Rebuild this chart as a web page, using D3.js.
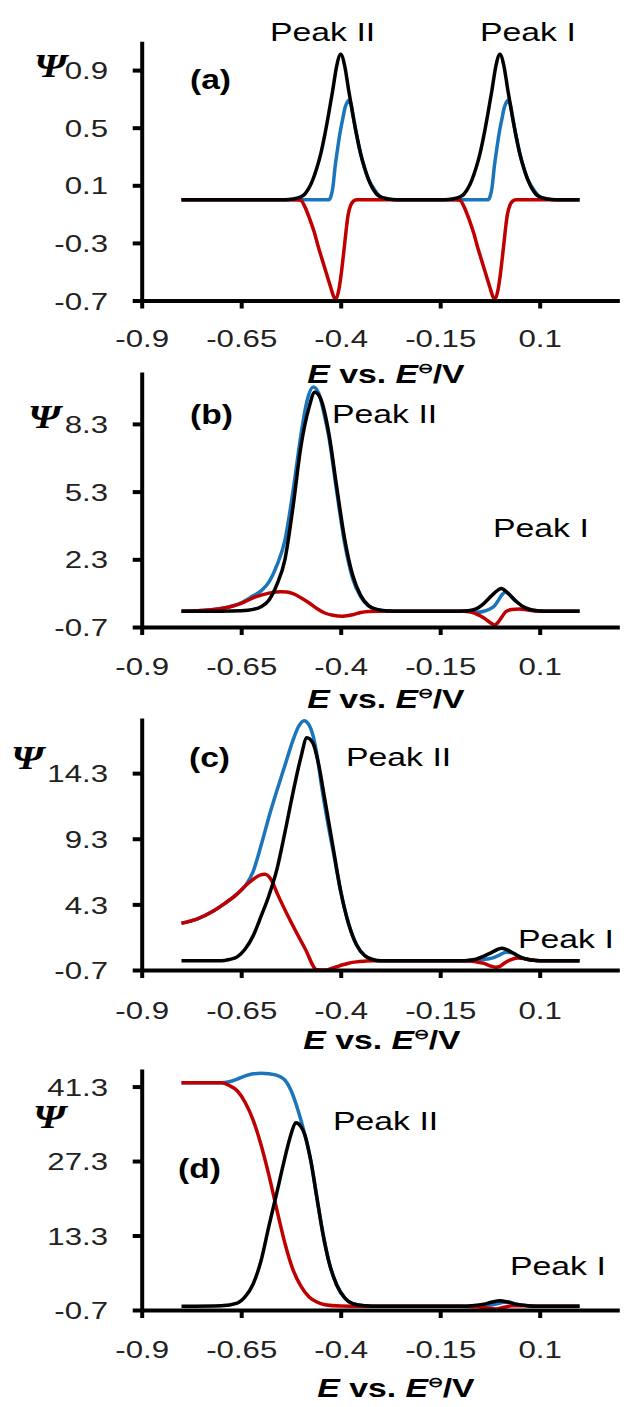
<!DOCTYPE html>
<html>
<head>
<meta charset="utf-8">
<script src="https://cdn.jsdelivr.net/npm/d3@7"></script>
<style>
  body { margin: 0; background: #fff; }
  svg text { font-family: "Liberation Sans", Arial, sans-serif; }
</style>
</head>
<body>
<div id="chart"></div>
<script>
// tick values
const xTicks = [-0.9, -0.65, -0.4, -0.15, 0.1];
const yTicksA = [-0.7, -0.3, 0.1, 0.5, 0.9];
const yTicksB = [-0.7, 2.3, 5.3, 8.3];
const yTicksC = [-0.7, 4.3, 9.3, 14.3];
const yTicksD = [-0.7, 13.3, 27.3, 41.3];
const panelNames = ["(a)", "(b)", "(c)", "(d)"];
const peakNames = ["Peak II", "Peak I"];

// curves, [E, Psi]
const blueA = [[-0.8,0],[-0.43,0],[-0.425,0.02],[-0.42,0.08],[-0.414,0.23],[-0.408,0.35],[-0.402,0.46],[-0.395,0.56],[-0.389,0.64],[-0.383,0.68],[-0.379,0.69],[-0.373,0.65],[-0.37,0.6],[-0.36,0.45],[-0.35,0.32],[-0.34,0.22],[-0.33,0.14],[-0.32,0.09],[-0.31,0.05],[-0.30,0.02],[-0.29,0.01],[-0.28,0.004],[-0.26,0],
  [-0.03,0],[-0.025,0.02],[-0.02,0.08],[-0.014,0.23],[-0.008,0.35],[-0.002,0.46],[0.005,0.56],[0.011,0.64],[0.017,0.68],[0.021,0.69],[0.027,0.65],[0.03,0.6],[0.04,0.45],[0.05,0.32],[0.06,0.22],[0.07,0.14],[0.08,0.09],[0.09,0.05],[0.10,0.02],[0.11,0.01],[0.12,0.004],[0.14,0],[0.2,0]];
const redA = [[-0.8,0],[-0.51,0],[-0.50,-0.005],[-0.49,-0.05],[-0.477,-0.14],[-0.466,-0.23],[-0.456,-0.33],[-0.445,-0.43],[-0.435,-0.52],[-0.425,-0.61],[-0.418,-0.67],[-0.412,-0.69],[-0.405,-0.63],[-0.398,-0.5],[-0.393,-0.38],[-0.389,-0.28],[-0.385,-0.18],[-0.381,-0.1],[-0.375,-0.04],[-0.368,-0.01],[-0.36,0],
  [-0.11,0],[-0.10,-0.005],[-0.09,-0.05],[-0.077,-0.14],[-0.066,-0.23],[-0.056,-0.33],[-0.045,-0.43],[-0.035,-0.52],[-0.025,-0.61],[-0.018,-0.67],[-0.012,-0.69],[-0.005,-0.63],[0.002,-0.5],[0.007,-0.38],[0.011,-0.28],[0.015,-0.18],[0.019,-0.1],[0.025,-0.04],[0.032,-0.01],[0.04,0],[0.2,0]];
const blackA = [[-0.8,0],[-0.54,0],[-0.52,0.005],[-0.50,0.02],[-0.49,0.04],[-0.48,0.08],[-0.47,0.14],[-0.46,0.22],[-0.45,0.32],[-0.44,0.45],[-0.43,0.6],[-0.42,0.76],[-0.41,0.93],[-0.40,1.01],[-0.39,0.93],[-0.38,0.76],[-0.37,0.6],[-0.36,0.45],[-0.35,0.32],[-0.34,0.22],[-0.33,0.14],[-0.32,0.08],[-0.31,0.04],[-0.30,0.02],[-0.28,0.005],[-0.26,0],
  [-0.14,0],[-0.12,0.005],[-0.10,0.02],[-0.09,0.04],[-0.08,0.08],[-0.07,0.14],[-0.06,0.22],[-0.05,0.32],[-0.04,0.45],[-0.03,0.6],[-0.02,0.76],[-0.01,0.93],[0,1.01],[0.01,0.93],[0.02,0.76],[0.03,0.6],[0.04,0.45],[0.05,0.32],[0.06,0.22],[0.07,0.14],[0.08,0.08],[0.09,0.04],[0.10,0.02],[0.12,0.005],[0.14,0],[0.2,0]];

const blueB = [[-0.8,0],[-0.75,0.03],[-0.70,0.12],[-0.65,0.37],[-0.62,0.68],[-0.60,0.9],[-0.58,1.3],[-0.56,2.05],[-0.54,3.15],[-0.52,5.3],[-0.50,7.8],[-0.485,9.3],[-0.469,9.93],[-0.455,9.65],[-0.44,8.6],[-0.43,7.75],[-0.41,5.3],[-0.39,3.0],[-0.37,1.45],[-0.35,0.65],[-0.33,0.24],[-0.31,0.08],[-0.28,0.01],[-0.25,0],
  [-0.09,0],[-0.076,-0.01],[-0.06,-0.05],[-0.04,0.0],[-0.025,0.1],[-0.013,0.25],[-0.005,0.45],[0.005,0.72],[0.015,0.86],[0.02,0.8],[0.04,0.45],[0.06,0.18],[0.08,0.05],[0.10,0.01],[0.12,0],[0.2,0]];
const redB = [[-0.8,0],[-0.75,0.03],[-0.70,0.12],[-0.65,0.35],[-0.616,0.62],[-0.58,0.8],[-0.55,0.86],[-0.535,0.85],[-0.52,0.78],[-0.50,0.6],[-0.478,0.35],[-0.46,0.12],[-0.44,-0.08],[-0.42,-0.18],[-0.395,-0.22],[-0.37,-0.16],[-0.35,-0.06],[-0.33,-0.01],[-0.31,0],
  [-0.09,0],[-0.076,-0.02],[-0.06,-0.12],[-0.04,-0.3],[-0.025,-0.5],[-0.013,-0.61],[-0.005,-0.5],[0.005,-0.25],[0.015,-0.02],[0.03,0.08],[0.05,0.1],[0.07,0.05],[0.09,0.01],[0.11,0],[0.2,0]];
const blackB = [[-0.8,0],[-0.70,0],[-0.65,0.02],[-0.62,0.08],[-0.60,0.2],[-0.58,0.5],[-0.56,1.2],[-0.54,2.3],[-0.52,4.6],[-0.50,7.3],[-0.48,9.0],[-0.465,9.7],[-0.45,9.4],[-0.43,7.9],[-0.41,5.5],[-0.39,3.2],[-0.37,1.6],[-0.35,0.7],[-0.33,0.25],[-0.31,0.08],[-0.28,0.01],[-0.25,0],
  [-0.10,0],[-0.08,0.02],[-0.06,0.1],[-0.04,0.35],[-0.02,0.7],[0.004,1.01],[0.02,0.8],[0.04,0.45],[0.06,0.18],[0.08,0.05],[0.10,0.01],[0.12,0],[0.2,0]];

const blueC = [[-0.8,2.86],[-0.76,3.2],[-0.72,3.8],[-0.69,4.4],[-0.66,5.1],[-0.64,5.7],[-0.62,6.8],[-0.60,8.8],[-0.58,11.0],[-0.56,13.0],[-0.54,14.9],[-0.52,16.8],[-0.505,17.9],[-0.492,18.3],[-0.48,18.0],[-0.469,17.1],[-0.458,15.4],[-0.448,13.3],[-0.433,10.6],[-0.418,8.2],[-0.40,5.3],[-0.38,2.8],[-0.36,1.2],[-0.34,0.4],[-0.32,0.1],[-0.30,0],
  [-0.12,0],[-0.09,0.01],[-0.06,0.05],[-0.04,0.1],[-0.02,0.2],[0.0,0.45],[0.015,0.65],[0.03,0.62],[0.05,0.3],[0.07,0.1],[0.09,0.03],[0.11,0],[0.2,0]];
const redC = [[-0.8,2.86],[-0.76,3.2],[-0.72,3.8],[-0.69,4.4],[-0.66,5.1],[-0.64,5.7],[-0.62,6.2],[-0.605,6.5],[-0.59,6.6],[-0.575,6.2],[-0.559,5.1],[-0.529,3.2],[-0.489,0.9],[-0.46,-0.68],[-0.44,-0.7],[-0.425,-0.6],[-0.41,-0.45],[-0.395,-0.3],[-0.38,-0.18],[-0.36,-0.08],[-0.34,-0.03],[-0.32,0],
  [-0.10,0],[-0.08,-0.02],[-0.06,-0.08],[-0.04,-0.2],[-0.025,-0.38],[-0.011,-0.49],[0.0,-0.42],[0.01,-0.2],[0.025,0.05],[0.045,0.22],[0.065,0.15],[0.085,0.05],[0.11,0],[0.2,0]];
const blackC = [[-0.8,0],[-0.70,0],[-0.68,0.1],[-0.66,0.3],[-0.64,0.9],[-0.62,1.9],[-0.60,3.4],[-0.58,5.0],[-0.56,7.0],[-0.54,9.8],[-0.52,12.8],[-0.50,15.5],[-0.485,17.0],[-0.47,16.6],[-0.455,14.9],[-0.44,12.3],[-0.42,8.8],[-0.40,5.3],[-0.38,2.8],[-0.36,1.2],[-0.34,0.4],[-0.32,0.1],[-0.30,0],
  [-0.10,0],[-0.08,0.03],[-0.06,0.12],[-0.04,0.35],[-0.02,0.65],[0.005,0.95],[0.03,0.65],[0.05,0.3],[0.07,0.1],[0.09,0.03],[0.11,0],[0.2,0]];

const blueD = [[-0.8,42.0],[-0.70,42.0],[-0.68,42.2],[-0.66,42.7],[-0.64,43.3],[-0.62,43.7],[-0.60,43.8],[-0.58,43.7],[-0.56,43.4],[-0.54,42.5],[-0.525,40.6],[-0.51,37.5],[-0.50,35.0],[-0.49,32.2],[-0.475,27.3],[-0.46,20.5],[-0.445,13.8],[-0.43,8.5],[-0.41,4.0],[-0.39,1.6],[-0.37,0.5],[-0.34,0.1],[-0.30,0],
  [-0.10,0],[-0.06,0.05],[-0.03,0.15],[-0.01,0.4],[0.01,0.75],[0.02,0.8],[0.04,0.4],[0.07,0.1],[0.10,0],[0.2,0]];
const redD = [[-0.8,42.0],[-0.70,42.0],[-0.68,41.5],[-0.66,40.5],[-0.64,38.3],[-0.62,35.0],[-0.60,30.3],[-0.58,24.5],[-0.56,18.0],[-0.54,11.8],[-0.52,6.9],[-0.50,3.8],[-0.48,1.8],[-0.46,0.8],[-0.44,0.3],[-0.40,0.05],[-0.35,0],
  [-0.10,0],[-0.06,-0.1],[-0.03,-0.35],[-0.01,-0.5],[0.01,-0.2],[0.03,0.1],[0.06,0.1],[0.10,0],[0.2,0]];
const blackD = [[-0.8,0],[-0.70,0.1],[-0.66,0.6],[-0.64,1.8],[-0.62,4.2],[-0.60,8.6],[-0.58,15.2],[-0.56,21.5],[-0.54,28.0],[-0.525,32.3],[-0.513,34.5],[-0.50,33.8],[-0.49,32.2],[-0.475,27.3],[-0.46,20.5],[-0.445,13.8],[-0.43,8.5],[-0.41,4.0],[-0.39,1.6],[-0.37,0.5],[-0.34,0.1],[-0.30,0],
  [-0.10,0],[-0.07,0.1],[-0.04,0.4],[-0.02,0.8],[0.0,1.05],[0.02,0.8],[0.04,0.4],[0.07,0.1],[0.10,0],[0.2,0]];

const width = 632, height = 1407;
const sx = 1.3;   // the text in the picture is stretched sideways
const blue = "#1a75bc", red = "#c00000";

const svg = d3.select("#chart").append("svg")
    .attr("width", width)
    .attr("height", height);

const x = d3.scaleLinear().domain([-0.9, 0.3]).range([141.7, 619.3]);

// where each panel sits on the page
const panels = [
  { blue: blueA, red: redA, black: blackA, yTicks: yTicksA, yMax: 1.1, top: 41.3, bottom: 300.5,
    labY: 46.5, titleX: 386, titleY: 383, psi: [34, 77], letter: [190, 89], p2: [270, 41], p1: [480, 41] },
  { blue: blueB, red: redB, black: blackB, yTicks: yTicksB, yMax: 10.6, top: 372, bottom: 627,
    labY: 48, titleX: 386, titleY: 708, psi: [28, 428], letter: [190, 424], p2: [332, 423], p1: [493, 537] },
  { blue: blueC, red: redC, black: blackC, yTicks: yTicksC, yMax: 18.5, top: 718, bottom: 970,
    labY: 49, titleX: 382, titleY: 1049, psi: [11, 769], letter: [189, 767], p2: [346, 766], p1: [518, 948] },
  { blue: blueD, red: redD, black: blackD, yTicks: yTicksD, yMax: 44.6, top: 1069, bottom: 1310,
    labY: 48, titleX: 396, titleY: 1397, psi: [33, 1128], letter: [178, 1178], p2: [333, 1130], p1: [510, 1275] }
];

function stretched(g, px, py, txt, size, k) {
  return g.append("text")
    .attr("transform", `translate(${px},${py}) scale(${k || sx},1)`)
    .attr("font-size", size)
    .text(txt);
}

panels.forEach((p, i) => {
  const g = svg.append("g");
  const y = d3.scaleLinear().domain([-0.7, p.yMax]).range([p.bottom, p.top]);

  // curves first so the axes sit on top like in excel
  const line = d3.line()
    .x(d => x(d[0]))
    .y(d => y(d[1]))
    .curve(d3.curveMonotoneX);

  [[p.blue, blue], [p.red, red], [p.black, "#000"]].forEach(([data, col]) => {
    g.append("path")
      .datum(data)
      .attr("fill", "none")
      .attr("stroke", col)
      .attr("stroke-width", 3.5)
      .attr("stroke-linejoin", "round")
      .attr("d", line);
  });

  // x axis
  g.append("g")
    .attr("transform", `translate(0,${p.bottom})`)
    .attr("font-family", null)
    .call(d3.axisBottom(x).tickValues(xTicks).tickSize(8).tickSizeOuter(0).tickFormat(d => String(d)))
    .call(a => a.select(".domain").attr("stroke-width", 4))
    .call(a => a.selectAll(".tick line").attr("stroke-width", 4))
    .call(a => a.selectAll(".tick text")
      .attr("y", p.labY).attr("dy", null)
      .attr("transform", `scale(${sx},1)`)
      .attr("font-size", 24)
      .attr("fill", "#222"));

  // y axis
  g.append("g")
    .attr("transform", `translate(${x(-0.9)},0)`)
    .attr("font-family", null)
    .call(d3.axisLeft(y).tickValues(p.yTicks).tickSize(9).tickSizeOuter(0).tickFormat(d => String(d)))
    .call(a => a.select(".domain").attr("stroke-width", 4))
    .call(a => a.selectAll(".tick line").attr("stroke-width", 4))
    .call(a => a.selectAll(".tick text")
      .attr("x", -33.7 / sx).attr("dy", "0.36em")
      .attr("transform", `scale(${sx},1)`)
      .attr("font-size", 24)
      .attr("fill", "#222"));

  // Psi label
  stretched(g, p.psi[0], p.psi[1], "Ψ", 34, 1.2)
    .style("font-family", "'Liberation Serif', 'DejaVu Serif', serif")
    .attr("font-weight", "bold")
    .attr("font-style", "italic");

  // panel letter
  stretched(g, p.letter[0], p.letter[1], panelNames[i], 28, 1.2)
    .attr("font-weight", "bold");

  // peak labels
  stretched(g, p.p2[0], p.p2[1], peakNames[0], 26);
  stretched(g, p.p1[0], p.p1[1], peakNames[1], 26);

  // axis title  E vs. E⊖/V
  const t = g.append("text")
    .attr("transform", `translate(${p.titleX},${p.titleY}) scale(${sx},1)`)
    .attr("text-anchor", "middle")
    .attr("font-size", 26)
    .attr("font-weight", "bold");
  t.append("tspan").attr("font-style", "italic").text("E");
  t.append("tspan").text(" vs. ");
  t.append("tspan").attr("font-style", "italic").text("E");
  t.append("tspan").attr("font-size", 14).attr("dy", -10).text("⊖");
  t.append("tspan").attr("dy", 10).text("/V");
});
</script>
</body>
</html>
